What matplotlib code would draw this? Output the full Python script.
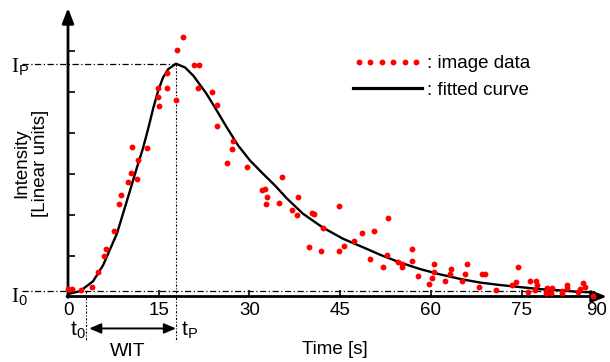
import numpy as np
import matplotlib
matplotlib.use("Agg")
import matplotlib.pyplot as plt
from matplotlib.lines import Line2D
from matplotlib.legend_handler import HandlerLine2D

plt.rcParams['font.family'] = ['Liberation Sans', 'DejaVu Sans']
plt.rcParams['mathtext.fontset'] = 'custom'
plt.rcParams['mathtext.rm'] = 'Liberation Serif'
plt.rcParams['mathtext.sf'] = 'Liberation Sans'

# image data (time in s, intensity in arbitrary linear units)
data_t = [0.05, 0.61, 2.10, 4.02, 5.01, 6.00, 6.28, 7.65, 8.43, 8.71,
          9.87, 10.41, 11.45, 11.65, 10.63, 13.11, 15.09, 14.83, 14.83, 16.31,
          16.31, 17.85, 18.10, 19.06, 20.86, 21.70, 21.54, 23.85, 24.68, 24.68,
          27.32, 27.06, 26.23, 29.54, 35.32, 32.02, 32.64, 32.94, 32.68, 34.88,
          38.07, 37.07, 37.90, 40.38, 40.71, 44.74, 42.10, 39.88, 41.87, 44.84,
          45.67, 47.32, 48.55, 50.53, 52.89, 49.87, 52.12, 52.68, 54.50, 55.16,
          55.16, 56.91, 56.91, 57.90, 60.50, 60.50, 60.21, 59.67, 62.31, 63.31,
          63.09, 65.90, 65.67, 65.07, 68.38, 68.93, 67.88, 70.69, 74.33, 73.34,
          74.05, 76.08, 76.36, 77.31, 77.47, 77.19, 79.12, 79.95, 79.01, 79.83,
          81.70, 81.60, 82.43, 82.53, 84.35, 84.63, 85.17, 85.45, 86.73]
data_y = [0.18, 0.18, 0.17, 0.24, 0.59, 1.00, 1.15, 1.59, 2.26, 2.47,
          2.80, 3.02, 2.87, 3.32, 3.64, 3.62, 4.66, 4.86, 5.08, 5.10,
          5.45, 4.80, 6.02, 6.33, 5.66, 5.66, 5.10, 4.99, 4.68, 4.15,
          3.79, 3.61, 3.26, 3.15, 2.92, 2.60, 2.62, 2.44, 2.26, 2.29,
          2.44, 2.10, 1.98, 2.03, 2.02, 2.20, 1.66, 1.21, 1.10, 1.12,
          1.24, 1.35, 1.55, 1.59, 1.92, 0.91, 0.71, 1.01, 0.83, 0.80,
          0.71, 1.15, 0.87, 0.51, 0.80, 0.59, 0.46, 0.30, 0.37, 0.67,
          0.55, 0.80, 0.55, 0.39, 0.54, 0.55, 0.23, 0.15, 0.71, 0.27,
          0.35, 0.10, 0.37, 0.37, 0.27, 0.16, 0.20, 0.20, 0.08, 0.08,
          0.08, 0.13, 0.29, 0.21, 0.10, 0.19, 0.33, 0.23, 0.02]

# fitted curve
curve_t = [0.0, 1.98, 4.13, 5.79, 8.10, 9.75, 11.40, 12.40, 13.30, 14.10,
           14.90, 15.70, 16.58, 17.85, 19.34, 20.71, 22.93, 24.58, 26.23, 28.15,
           30.08, 32.07, 34.21, 36.20, 38.84, 42.15, 45.45, 49.42, 51.57, 54.88,
           58.18, 61.49, 64.79, 68.10, 71.40, 74.71, 78.02, 81.32, 83.80, 86.61]
curve_y = [0.06, 0.13, 0.37, 0.76, 1.54, 2.34, 3.15, 3.62, 4.12, 4.60,
           5.02, 5.34, 5.55, 5.68, 5.59, 5.39, 4.94, 4.54, 4.13, 3.68,
           3.32, 3.02, 2.71, 2.39, 2.02, 1.68, 1.41, 1.16, 1.02, 0.83,
           0.67, 0.54, 0.43, 0.34, 0.28, 0.23, 0.18, 0.15, 0.12, 0.10]

t0, tP = 3.0, 17.85
I0, IP = 0.13, 5.68
xticks = [0, 15, 30, 45, 60, 75]

fig = plt.figure(figsize=(6.1, 3.62), dpi=100)
ax = fig.add_axes([68 / 610, 65.5 / 362, 539 / 610, 288.5 / 362])
ax.set_xlim(0, 89.1)
ax.set_ylim(0, 7.04)
for s in ax.spines.values():
    s.set_visible(False)

ax.set_xticks(xticks)
ax.set_xticklabels([str(v) for v in xticks])
ax.set_yticks([1, 2, 3, 4, 5, 6])
ax.set_yticklabels([])
ax.tick_params(axis='both', direction='in', length=5, width=1.2, color='k')
ax.tick_params(axis='x', labelsize=13.5, pad=4)

# axes with arrows
arrow = dict(arrowstyle='-|>,head_length=0.9,head_width=0.35', lw=2, color='k',
             shrinkA=0, shrinkB=0)
ax.annotate('', xy=(1, 0), xytext=(-0.002, 0), xycoords='axes fraction', arrowprops=arrow)
ax.annotate('', xy=(0, 1), xytext=(0, -0.003), xycoords='axes fraction', arrowprops=arrow)
ax.annotate('90', xy=(87.4, 0), xycoords=('data', 'axes fraction'), xytext=(0, -4),
            textcoords='offset points', ha='center', va='top', fontsize=13.5)

# reference lines
dd = dict(color='k', lw=0.9, dashes=(5, 2, 1, 2), clip_on=False)
ax.plot([-7.6, tP], [IP, IP], **dd)
ax.plot([-7.6, 87.4], [I0, I0], **dd)
dv = dict(color='k', lw=0.8, dashes=(2, 1.5, 1, 1.5), clip_on=False)
ax.plot([tP, tP], [IP, -1.07], **dv)
ax.plot([t0, t0], [I0, -1.07], **dv)

ax.plot(curve_t, curve_y, color='k', lw=1.7, zorder=3, solid_joinstyle='round')
ax.plot(data_t, data_y, ls='none', marker='o', ms=4.2, color='#ff0000', mec='none',
        zorder=4, clip_on=False)

# WIT arrow
ax.annotate('', xy=(tP, -0.78), xytext=(t0 + 0.5, -0.78),
            arrowprops=dict(arrowstyle='<|-|>,head_length=0.7,head_width=0.3', lw=1.4,
                            color='k', shrinkA=0, shrinkB=0),
            annotation_clip=False)

fig.text(20 / 610, 1 - 67 / 362, r'$\mathrm{I}_{\mathsf{P}}$', fontsize=15, ha='center', va='center')
fig.text(19 / 610, 1 - 297 / 362, r'$\mathrm{I}_{\mathsf{0}}$', fontsize=15, ha='center', va='center')
fig.text(78 / 610, 1 - 330 / 362, r'$\mathsf{t}_{\mathsf{0}}$', fontsize=15, ha='center', va='center')
fig.text(190 / 610, 1 - 330 / 362, r'$\mathsf{t}_{\mathsf{P}}$', fontsize=15, ha='center', va='center')
fig.text(128 / 610, 1 - 351 / 362, 'WIT', fontsize=14, ha='center', va='center')
fig.text(335 / 610, 1 - 349 / 362, 'Time [s]', fontsize=13.5, ha='center', va='center')
fig.text(31 / 610, 1 - 163 / 362, 'Intensity\n[Linear units]', fontsize=13.5,
         rotation=90, ha='center', va='center', multialignment='center', linespacing=1.1)

h_dots = Line2D([], [], ls='none', marker='o', ms=4.2, color='#ff0000', mec='none')
h_line = Line2D([], [], color='k', lw=2.3)
ax.legend([h_dots, h_line], [': image data', ': fitted curve'],
          handler_map={h_dots: HandlerLine2D(numpoints=6)},
          loc='upper left', bbox_to_anchor=(353 / 610, 1 - 55 / 362),
          bbox_transform=fig.transFigure, frameon=False, fontsize=13.5,
          handlelength=3.68, handletextpad=0.27, labelspacing=0.52,
          borderpad=0, borderaxespad=0)

fig.savefig('out.png', dpi=100)
